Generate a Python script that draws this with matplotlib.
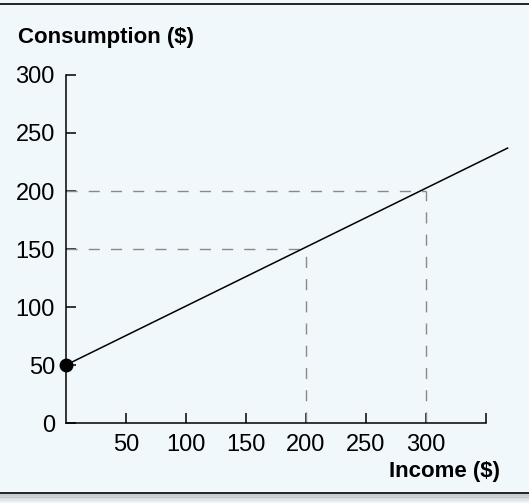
import matplotlib
matplotlib.use("Agg")
import matplotlib.pyplot as plt
from matplotlib.lines import Line2D

plt.rcParams['font.family'] = ['Liberation Sans', 'DejaVu Sans']

income = [0, 368]
consumption = [50, 237]
guide_x = [200, 300]
guide_y = [150, 200]
x_ticks = [50, 100, 150, 200, 250, 300, 350]
x_labels = ["50", "100", "150", "200", "250", "300", ""]
y_ticks = [0, 50, 100, 150, 200, 250, 300]

bg = "#f1f8fb"
fig = plt.figure(figsize=(5.29, 5.03), dpi=100, facecolor=bg)
ax = fig.add_axes([66/529, 80/503, 444/529, 348/503])
ax.set_facecolor(bg)

ax.plot(income, consumption, color="black", lw=1.1, zorder=3)
ax.plot(income[0], consumption[0], "o", color="black", ms=9, zorder=4, clip_on=False)

for gx, gy in zip(guide_x, guide_y):
    ax.plot([0, gx], [gy, gy], color="#8a8a8a", lw=1, dashes=(8, 8), zorder=2)
    ax.plot([gx, gx], [0, gy], color="#8a8a8a", lw=1, dashes=(8, 8), zorder=2)

ax.set_xlim(0, 370)
ax.set_ylim(0, 300)
ax.spines['top'].set_visible(False)
ax.spines['right'].set_visible(False)
ax.spines['bottom'].set_bounds(0, 350)
ax.spines['left'].set_bounds(0, 300)
for s in ['left', 'bottom']:
    ax.spines[s].set_linewidth(1.1)

ax.set_xticks(x_ticks)
ax.set_xticklabels(x_labels)
ax.set_yticks(y_ticks)
ax.tick_params(direction="in", length=7, width=1.1, labelsize=17, color="black")
ax.tick_params(axis="x", pad=8)
ax.tick_params(axis="y", pad=8)

fig.text(18/529, 1 - 38/503, "Consumption ($)", fontsize=16, fontweight="bold", va="center", ha="left")
fig.text(500/529, 1 - 472/503, "Income ($)", fontsize=16, fontweight="bold", va="center", ha="right")

# frame lines with shadow at bottom
fig.add_artist(Line2D([0, 1], [1 - 4/503, 1 - 4/503], color="black", lw=1.2))
for i, a in enumerate([0.35, 0.25, 0.17, 0.1, 0.05]):
    yy = 1 - (495 + i*1.6)/503
    fig.add_artist(Line2D([0, 1], [yy, yy], color="gray", lw=1.6, alpha=a))
fig.add_artist(Line2D([0, 1], [1 - 493/503, 1 - 493/503], color="black", lw=1.2))

fig.savefig("out.png", dpi=100, facecolor=bg)
